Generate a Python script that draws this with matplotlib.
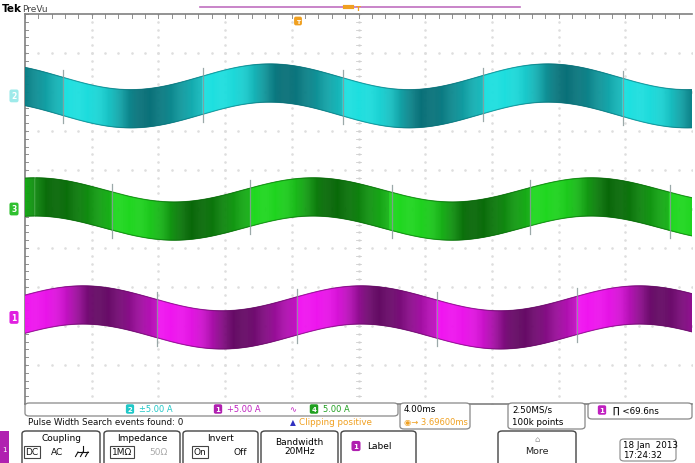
import numpy as np
import matplotlib
matplotlib.use("Agg")
import matplotlib.pyplot as plt
from matplotlib.collections import PolyCollection
from matplotlib.patches import FancyBboxPatch
from matplotlib.colors import to_rgb

W, H = 695, 464

# ---- waveform data (in graticule divisions: x 0..10, y -5..5) ----
channels = ["2", "3", "1"]
centers = [2.90, 0.0, -2.78]          # offset of each trace
amps = [0.33, 0.31, 0.32]             # sine amplitude (div)
peaks = [3.67, 4.32, 0.87]            # x of a positive peak (div)
period = 4.17                         # div (60 Hz at 4 ms/div)
half_thick = [0.49, 0.49, 0.49]       # half band thickness (div)
spikes = [[0.57, 2.67, 4.77, 6.87, 8.97],
          [1.30, 3.37, 5.50, 7.57, 9.67],
          [1.98, 4.08, 6.18, 8.28]]
light_cols = ["#1de0e0", "#1fd81f", "#f014f0"]
dark_cols = ["#087078", "#086808", "#640a64"]
tag_cols = ["#9eeaea", "#2fc02f", "#e020e0"]

readouts = ["\u00b15.00 A", "+5.00 A", "5.00 A"]


def px(x, y):
    return x / W, 1 - y / H


fig = plt.figure(figsize=(W / 100, H / 100), dpi=100)
fig.patch.set_facecolor("white")
x0, y0 = px(25, 405)
ax = fig.add_axes([x0, y0, 667 / W, 390 / H])
ax.set_xlim(0, 10)
ax.set_ylim(-5, 5)
ax.set_xticks([])
ax.set_yticks([])
ax.spines["right"].set_visible(False)
for s in ["left", "top", "bottom"]:
    ax.spines[s].set_color("#808080")
    ax.spines[s].set_linewidth(1.2)

# graticule dots
gc = "#dedede"
minor_x = np.arange(0, 10.01, 0.2)
minor_y = np.arange(-5, 5.01, 0.2)
for gx in range(1, 10):
    ax.plot(np.full_like(minor_y, gx), minor_y, ls="none", marker="s",
            ms=0.8, color=gc, zorder=1)
for gy in range(-4, 5):
    ax.plot(minor_x, np.full_like(minor_x, gy), ls="none", marker="s",
            ms=0.8, color=gc, zorder=1)
# center cross ticks and border ticks
for t in minor_x:
    ax.plot([t, t], [-0.05, 0.05], color="#cfcfcf", lw=0.6, zorder=1)
    ax.plot([t, t], [4.9, 5.0], color="#909090", lw=0.7, zorder=1)
for t in minor_y:
    ax.plot([4.96, 5.04], [t, t], color="#cfcfcf", lw=0.6, zorder=1)
    ax.plot([0, 0.05], [t, t], color="#909090", lw=0.7, zorder=1)

# ---- traces ----
xs = np.linspace(0, 10, 700)
half_p = period / 2
for i in range(3):
    c = centers[i] + amps[i] * np.cos(2 * np.pi * (xs - peaks[i]) / period)
    lo = c - half_thick[i]
    hi = c + half_thick[i]
    sp = np.array(spikes[i])
    prev = np.array([sp[sp <= xx].max() if np.any(sp <= xx) else sp[0] - half_p
                     for xx in xs])
    u = ((xs - prev) / half_p) % 1.0
    sig = np.where(u < 0.58, 0.22, 0.40)
    d = np.exp(-((u - 0.58) / sig) ** 2)
    lc = np.array(to_rgb(light_cols[i]))
    dc = np.array(to_rgb(dark_cols[i]))
    cols = [(1 - dd) * lc + dd * dc for dd in d]
    polys = []
    for k in range(len(xs) - 1):
        polys.append([(xs[k], lo[k]), (xs[k + 1], lo[k + 1]),
                      (xs[k + 1], hi[k + 1]), (xs[k], hi[k])])
    pc = PolyCollection(polys, facecolors=cols[:-1], edgecolors=cols[:-1],
                        linewidths=0.4, zorder=3)
    ax.add_collection(pc)
    ax.plot(xs, lo, color=dark_cols[i], lw=0.8, alpha=0.6, zorder=4)
    ax.plot(xs, hi, color=dark_cols[i], lw=0.8, alpha=0.6, zorder=4)
    for s in spikes[i]:
        cs = centers[i] + amps[i] * np.cos(2 * np.pi * (s - peaks[i]) / period)
        ax.plot([s, s], [cs - half_thick[i] - 0.2, cs + half_thick[i] + 0.2],
                color="#8a9a9a", lw=0.9, alpha=0.85, zorder=5)

# channel tags on left
for i in range(3):
    tx, ty = 14, 210 - centers[i] * 39
    fig.text(*px(tx, ty), channels[i], fontsize=5.5, color="white",
             ha="center", va="center", fontweight="bold",
             bbox=dict(boxstyle="round,pad=0.25", fc=tag_cols[i], ec="none"))

# ---- top bar ----
fig.text(*px(2, 9), "Tek", fontsize=7.5, fontweight="bold", va="center")
fig.text(*px(22, 9), "PreVu", fontsize=6.5, color="#444444", va="center")
fig.add_artist(plt.Line2D([200 / W, 520 / W], [1 - 8 / H, 1 - 8 / H],
                          color="#c070c0", lw=1.2))
fig.add_artist(plt.Line2D([345 / W, 352 / W], [1 - 8 / H, 1 - 8 / H],
                          color="#f0a020", lw=3))
fig.text(*px(358, 9), "T", fontsize=5, color="#f0a020", ha="center",
         va="center", fontweight="bold")
fig.text(*px(298, 22), "T", fontsize=4.5, color="white", ha="center",
         va="center", fontweight="bold",
         bbox=dict(boxstyle="round,pad=0.3", fc="#f0a020", ec="none"))


def box(xa, ya, xb, yb, ec="#888888", lw=0.9, fc="white"):
    (fx, fy) = px(xa, yb)
    p = FancyBboxPatch((fx, fy), (xb - xa) / W, (yb - ya) / H,
                       boxstyle="round,pad=0,rounding_size=0.006",
                       transform=fig.transFigure, ec=ec, fc=fc, lw=lw)
    fig.add_artist(p)


def seg(xa, ya, xb, yb, col="#111111", lw=0.8):
    fig.add_artist(plt.Line2D([xa / W, xb / W], [1 - ya / H, 1 - yb / H],
                              color=col, lw=lw))


# ---- readout row ----
box(25, 404, 398, 417)
pill_x = [130, 218, 314]
pill_cols = ["#20c8c8", "#b020b0", "#20a020"]
text_cols = ["#20c8c8", "#c020c0", "#20a020"]
for i, ch in enumerate(["2", "1", "4"]):
    fig.text(*px(pill_x[i], 410), ch, fontsize=5, color="white", ha="center",
             va="center", fontweight="bold",
             bbox=dict(boxstyle="round,pad=0.25", fc=pill_cols[i], ec="none"))
    fig.text(*px(pill_x[i] + 9, 410), readouts[i], fontsize=6,
             color=text_cols[i], va="center")
fig.text(*px(289, 410), "\u223f", fontsize=6, color="#c020c0", va="center")
fig.text(*px(28, 423), "Pulse Width Search events found: 0", fontsize=6.3,
         va="center", color="#111111")
fig.text(*px(290, 423), "\u25b2", fontsize=5.5, color="#3030c0", va="center")
fig.text(*px(299, 423), "Clipping positive", fontsize=6.3, color="#f0a020",
         va="center")

box(400, 404, 470, 430)
fig.text(*px(404, 410), "4.00ms", fontsize=6.3, va="center")
fig.text(*px(404, 423), "\u25c9\u2192 3.69600ms", fontsize=6, va="center",
         color="#f0a020")
box(508, 404, 585, 430)
fig.text(*px(512, 410), "2.50MS/s", fontsize=6.3, va="center")
fig.text(*px(512, 423), "100k points", fontsize=6.3, va="center")
box(588, 404, 692, 420)
fig.text(*px(602, 411), "1", fontsize=5, color="white", ha="center",
         va="center", fontweight="bold",
         bbox=dict(boxstyle="round,pad=0.25", fc="#c020c0", ec="none"))
fig.text(*px(613, 411), "\u220f <69.6ns", fontsize=6.3, va="center")

# ---- bottom buttons ----
fig.add_artist(FancyBboxPatch(px(0, 466), 9 / W, 34 / H,
                              boxstyle="square,pad=0", transform=fig.transFigure,
                              fc="#b020b0", ec="none"))
fig.text(*px(4, 450), "1", fontsize=5, color="white", ha="center", va="center")
buttons = [(22, 100, "Coupling"), (104, 180, "Impedance"),
           (183, 258, "Invert"), (261, 338, "Bandwidth\n20MHz")]
for xa, xb, lab in buttons:
    box(xa, 432, xb, 468, ec="#444444", lw=1.0)
    if "\n" in lab:
        fig.text(*px((xa + xb) / 2, 447), lab, fontsize=6.5, ha="center",
                 va="center", linespacing=1.1)
    else:
        fig.text(*px((xa + xb) / 2, 439), lab, fontsize=6.5, ha="center",
                 va="center")
opts = [(32, "DC", True), (57, "AC", False),
        (122, "1M\u03a9", True), (158, "50\u03a9", None),
        (200, "On", True), (240, "Off", False)]
for ox, lab, boxed in opts:
    col = "#aaaaaa" if boxed is None else "#111111"
    kw = {}
    if boxed:
        kw["bbox"] = dict(boxstyle="square,pad=0.2", fc="white", ec="#444444",
                          lw=0.8)
    fig.text(*px(ox, 453), lab, fontsize=6.5, ha="center", va="center",
             color=col, **kw)
# chassis ground symbol
seg(83, 447, 83, 453)
seg(78, 453, 88, 453)
for gx in (78, 83, 88):
    seg(gx, 453, gx - 2.5, 457.5)

box(341, 432, 416, 468, ec="#444444", lw=1.0)
fig.text(*px(356, 447), "1", fontsize=5, color="white", ha="center",
         va="center", fontweight="bold",
         bbox=dict(boxstyle="round,pad=0.3", fc="#b020b0", ec="none"))
fig.text(*px(367, 447), "Label", fontsize=6.5, va="center")
box(498, 432, 576, 468, ec="#444444", lw=1.0)
fig.text(*px(537, 440), "\u2302", fontsize=6, ha="center", va="center",
         color="#999999")
fig.text(*px(537, 452), "More", fontsize=6.8, ha="center", va="center",
         color="#222222")
box(620, 440, 676, 462, ec="#888888", lw=0.8)
fig.text(*px(623, 446), "18 Jan  2013", fontsize=6.3, va="center")
fig.text(*px(623, 456), "17:24:32", fontsize=6.3, va="center")

fig.savefig("out.png", dpi=100)
